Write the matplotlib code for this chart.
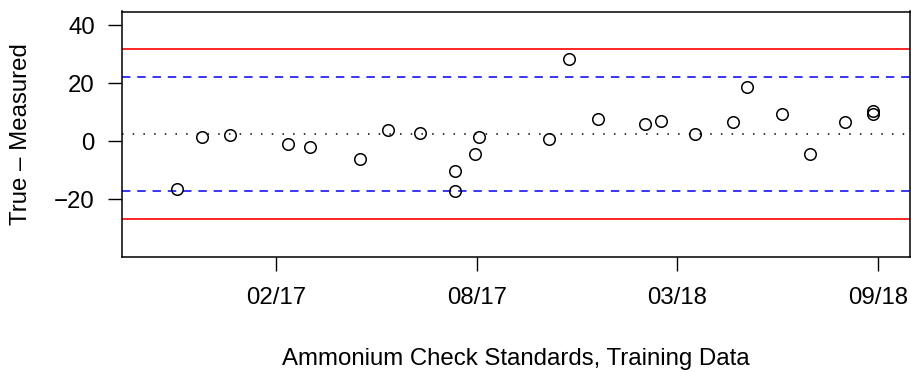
import numpy as np
import matplotlib
matplotlib.use("Agg")
import matplotlib.pyplot as plt

# ---- data ----
sample_dates = ["2016-10-27", "2016-11-21", "2016-12-19", "2017-02-15", "2017-03-09",
                "2017-04-27", "2017-05-25", "2017-06-26", "2017-07-31", "2017-07-31",
                "2017-08-20", "2017-08-24", "2017-11-02", "2017-11-22", "2017-12-21",
                "2018-02-06", "2018-02-22", "2018-03-28", "2018-05-04", "2018-05-18",
                "2018-06-22", "2018-07-20", "2018-08-24", "2018-09-21", "2018-09-21"]
differences = [-16.5, 1.3, 2.0, -0.9, -2.2,
               -6.0, 4.0, 2.9, -10.3, -17.3,
               -4.5, 1.5, 0.6, 28.2, 7.7,
               5.8, 6.8, 2.6, 6.6, 18.5,
               9.5, -4.6, 6.6, 10.3, 9.3]
center_line = 2.4
warning_limits = [-17.1, 22.0]
control_limits = [-26.9, 31.7]
tick_dates = ["2017-02-03", "2017-08-22", "2018-03-10", "2018-09-26"]
tick_labels = ["02/17", "08/17", "03/18", "09/18"]
y_ticks = [-20, 0, 20, 40]
x_label = "Ammonium Check Standards, Training Data"
y_label = "True \u2013 Measured"

plt.rcParams['font.family'] = ['Liberation Sans', 'DejaVu Sans']
FS = 17.3

x = np.array(sample_dates, dtype="datetime64[D]").astype(int)
xt = np.array(tick_dates, dtype="datetime64[D]").astype(int)

W, H = 911, 373
fig = plt.figure(figsize=(W / 100, H / 100), dpi=100)
L, R, T, B = 122, 910, 11.5, 256.5
ax = fig.add_axes([L / W, 1 - B / H, (R - L) / W, (B - T) / H])

ax.axhline(center_line, color="black", lw=1.1, ls=(0, (1, 6)))
for v in warning_limits:
    ax.axhline(v, color="#0000ff", lw=1.1, ls=(0, (5.5, 4.5)))
for v in control_limits:
    ax.axhline(v, color="#ff0000", lw=1.2)

ax.plot(x, differences, ls="none", marker="o", ms=8.3, mfc="none",
        mec="black", mew=1.1)

ax.set_xlim(17046, 17832)
ax.set_ylim(-39.8, 44.7)
ax.set_xticks(xt)
ax.set_xticklabels(tick_labels)
ax.set_yticks(y_ticks)
ax.set_yticklabels([f"{v}".replace("-", "\u2212") for v in y_ticks])

ax.tick_params(axis="both", direction="out", length=10, width=1.0,
               labelsize=FS, color="black")
ax.tick_params(axis="x", pad=12)
ax.tick_params(axis="y", pad=9.5)
for s in ax.spines.values():
    s.set_linewidth(1.1)
    s.set_color("black")

ax.set_xlabel(x_label, fontsize=FS)
ax.xaxis.set_label_coords(0.5, (B - 365) / (B - T))
ax.xaxis.label.set_va("baseline")
ax.set_ylabel(y_label, fontsize=FS)
ax.yaxis.set_label_coords((27.5 - L) / (R - L), 0.5)
ax.yaxis.label.set_va("baseline")

fig.savefig("out.png", dpi=100)
